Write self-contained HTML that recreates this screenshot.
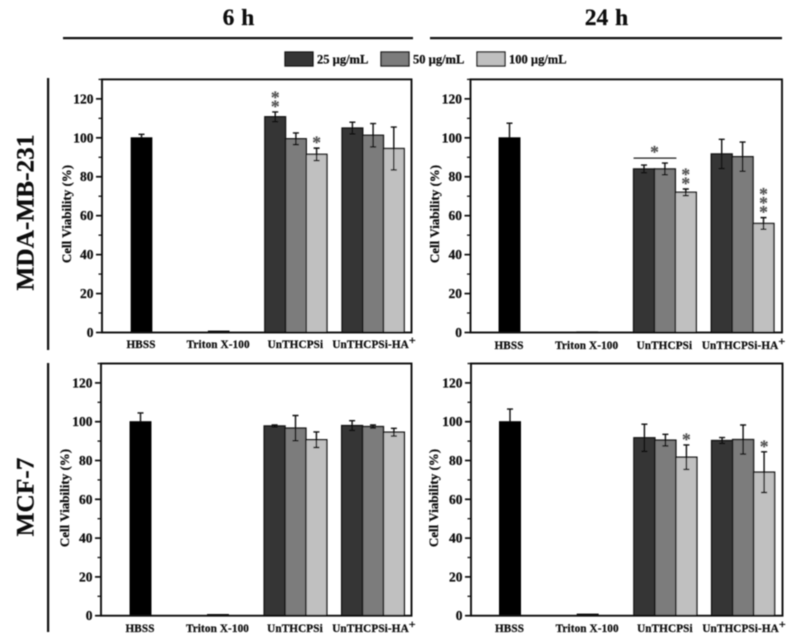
<!DOCTYPE html>
<html lang="en">
<head>
<meta charset="utf-8">
<title>Cell viability chart</title>
<style>
html,body{margin:0;padding:0;background:#fff;width:800px;height:642px;overflow:hidden}
svg{display:block;font-family:"Liberation Serif",serif;font-weight:bold}
text{stroke:#111;stroke-width:0.25px}
</style>
</head>
<body>
<svg id="chart" xmlns="http://www.w3.org/2000/svg" width="800" height="642" viewBox="0 0 800 642">
<defs><filter id="soft" x="-2%" y="-2%" width="104%" height="104%"><feGaussianBlur stdDeviation="0.5"/></filter></defs>
<g id="root" filter="url(#soft)">
<text x="238.5" y="25" font-size="23.5" text-anchor="middle" fill="#111" style="word-spacing:1px">6 h</text>
<text x="606.5" y="25" font-size="23.5" text-anchor="middle" fill="#111" style="word-spacing:1px">24 h</text>
<rect x="63" y="37" width="350" height="2.2" fill="#111"/>
<rect x="430" y="37" width="352" height="2.2" fill="#111"/>
<rect x="47" y="78" width="2.2" height="272" fill="#111"/>
<rect x="47" y="363" width="2.2" height="269" fill="#111"/>
<text transform="translate(33.5,212.5) rotate(-90)" font-size="25.3" text-anchor="middle" fill="#111">MDA-MB-231</text>
<text transform="translate(33.5,497) rotate(-90)" font-size="25.3" text-anchor="middle" fill="#111">MCF-7</text>
<g id="legend"></g>
<g id="panels"></g>
</g>
</svg>
<script>
const categories = ['HBSS', 'Triton X-100', 'UnTHCPSi', 'UnTHCPSi-HA'];
const doseLabels = ['25 µg/mL', '50 µg/mL', '100 µg/mL'];
const yTicks = [0, 20, 40, 60, 80, 100, 120];
const yMinorTicks = [10, 30, 50, 70, 90, 110, 130];

const mda6hControls = [100, 0.7];
const mda6hControlErrors = [1.8, 0];
const mda6hMeans = [[110.8, 99.5, 91.5], [105, 101.3, 94.5]];
const mda6hErrors = [[2.5, 3, 3.2], [3, 6, 11]];
const mda6hStars = [[2, 0, 1], [0, 0, 0]];

const mda24hControls = [100, 0.3];
const mda24hControlErrors = [7.5, 0];
const mda24hMeans = [[84, 84, 72], [91.7, 90.3, 56]];
const mda24hErrors = [[2, 3, 1.7], [7.5, 7.5, 3]];
const mda24hStars = [[0, 0, 2], [0, 0, 3]];

const mcf6hControls = [100, 0.6];
const mcf6hControlErrors = [4.5, 0];
const mcf6hMeans = [[97.8, 96.7, 90.7], [98, 97.5, 94.6]];
const mcf6hErrors = [[0.5, 6.5, 4], [2.5, 0.8, 2]];
const mcf6hStars = [[0, 0, 0], [0, 0, 0]];

const mcf24hControls = [100, 0.8];
const mcf24hControlErrors = [6.5, 0];
const mcf24hMeans = [[91.7, 90.5, 81.7], [90.3, 90.8, 74]];
const mcf24hErrors = [[7, 3, 6.3], [1.5, 7.5, 10.5]];
const mcf24hStars = [[0, 0, 1], [0, 0, 1]];

const doseColors = ['#363636', '#7b7b7b', '#c0c0c0'];
const NS = 'http://www.w3.org/2000/svg';

function make(parent, tag, attrs) {
  const el = document.createElementNS(NS, tag);
  for (const k in attrs) el.setAttribute(k, attrs[k]);
  parent.appendChild(el);
  return el;
}

function drawPanel(parent, name, box, data) {
  const g = make(parent, 'g', {});
  
  

  const yScale = v => box.bottom - v * box.unit;
  const xCenter = i => box.first + box.step * i;
  const barW = box.barW;

  function errorBar(cx, val, err, both, label) {
    if (err <= 0) return;
    const e = make(g, 'path', {
      d: 'M' + (cx - 3) + ' ' + yScale(val + err) + 'H' + (cx + 3) +
         'M' + cx + ' ' + yScale(val + err) + 'V' + yScale(both ? val - err : val) +
         (both ? 'M' + (cx - 3) + ' ' + yScale(val - err) + 'H' + (cx + 3) : ''),
      stroke: '#111', 'stroke-width': 1.4, fill: 'none'
    });
    
    
  }

  function starMark(cx, y, label) {
    const s = make(g, 'text', { x: cx, y: y + 8, 'font-size': 17.5, 'text-anchor': 'middle', fill: '#555', style: 'stroke:#555;stroke-width:0.2px' });
    s.textContent = '*';
    
    
  }

  // control bars
  data.controls.forEach((v, i) => {
    const cx = xCenter(i);
    const r = make(g, 'rect', { x: cx - barW / 2, y: yScale(v), width: barW, height: yScale(0) - yScale(v), fill: '#000', stroke: '#000', 'stroke-width': 1 });
    
    
    errorBar(cx, v, data.controlErrors[i], false, 'error-bar-control');
  });

  // treatment bars
  data.means.forEach((row, gi) => {
    const center = xCenter(gi + 2);
    row.forEach((v, di) => {
      const cx = center + (di - 1) * barW;
      const r = make(g, 'rect', { x: cx - barW / 2, y: yScale(v), width: barW, height: yScale(0) - yScale(v), fill: doseColors[di], stroke: '#151515', 'stroke-width': 1.4 });
      
      
    });
    row.forEach((v, di) => {
      const cx = center + (di - 1) * barW;
      const err = data.errors[gi][di];
      errorBar(cx, v, err, true, 'error-bar');
      for (let n = 0; n < data.stars[gi][di]; n++) {
        starMark(cx, yScale(v + err) - 7.5 - n * 9, 'significance-star');
      }
    });
  });

  // optional bracket over the first two doses of the first treatment group
  if (data.bracket) {
    const center = xCenter(2);
    const row = data.means[0];
    const errs = data.errors[0];
    const top = Math.max(row[0] + errs[0], row[1] + errs[1]);
    const yb = yScale(top) - 5;
    const b = make(g, 'line', { x1: center - 1.5 * barW, x2: center + 0.55 * barW, y1: yb, y2: yb, stroke: '#222', 'stroke-width': 1.3 });
    
    
    starMark(center - 0.5 * barW, yb - 8, 'significance-star');
  }

  // frame
  const frame = make(g, 'rect', { x: box.left, y: yScale(130), width: box.right - box.left, height: yScale(0) - yScale(130), fill: 'none', stroke: '#111', 'stroke-width': 1.9 });
  
  

  // y ticks
  yTicks.forEach(t => {
    const l = make(g, 'line', { x1: box.left - 6, x2: box.left, y1: yScale(t), y2: yScale(t), stroke: '#111', 'stroke-width': 1.7 });
    
    
    const tx = make(g, 'text', { x: box.left - 8.5, y: yScale(t) + 4.5, 'font-size': 13.5, 'text-anchor': 'end', fill: '#111' });
    tx.textContent = t;
    
    
  });
  yMinorTicks.forEach(t => {
    const l = make(g, 'line', { x1: box.left - 3.5, x2: box.left, y1: yScale(t), y2: yScale(t), stroke: '#111', 'stroke-width': 1.3 });
    
    
  });

  // y axis title
  const title = make(g, 'text', { transform: 'translate(' + box.titleX + ',' + box.titleY + ') rotate(-90)', 'font-size': 13, 'text-anchor': 'middle', fill: '#111' });
  title.textContent = 'Cell Viability (%)';
  
  

  // x labels
  categories.forEach((c, i) => {
    const tx = make(g, 'text', { x: xCenter(i) + (i === 3 ? 1.5 : 0) - 0.5, y: box.labelY, 'font-size': 11.2, 'text-anchor': 'middle', fill: '#111', 'letter-spacing': 0.12 });
    tx.textContent = c;
    
    
    if (i === 3) {
      const sup = make(tx, 'tspan', { dy: -4, 'font-size': 12 });
      sup.textContent = '+';
    }
  });
}

const legendRoot = document.getElementById('legend');
const legendX = [285, 381, 477];
doseLabels.forEach((d, i) => {
  const sw = make(legendRoot, 'rect', { x: legendX[i], y: 52, width: 28, height: 14, fill: doseColors[i], stroke: '#151515', 'stroke-width': 1.3 });
  
  
  const tx = make(legendRoot, 'text', { x: legendX[i] + 32, y: 63.5, 'font-size': 12.5, fill: '#111' });
  tx.textContent = d;
  
  
});

const panelsRoot = document.getElementById('panels');
drawPanel(panelsRoot, 'panel-mda-6h',
  { left: 102, right: 411.5, bottom: 332.5, unit: 1.947, first: 141.5, step: 77.2, barW: 20.7, titleX: 71, titleY: 214, labelY: 348 },
  { controls: mda6hControls, controlErrors: mda6hControlErrors, means: mda6hMeans, errors: mda6hErrors, stars: mda6hStars });
drawPanel(panelsRoot, 'panel-mda-24h',
  { left: 470.5, right: 782, bottom: 332.5, unit: 1.947, first: 509.5, step: 77.7, barW: 20.9, titleX: 439, titleY: 214, labelY: 349 },
  { controls: mda24hControls, controlErrors: mda24hControlErrors, means: mda24hMeans, errors: mda24hErrors, stars: mda24hStars, bracket: true });
drawPanel(panelsRoot, 'panel-mcf-6h',
  { left: 101, right: 411.5, bottom: 615.7, unit: 1.94, first: 140.5, step: 77.5, barW: 20.9, titleX: 69, titleY: 498, labelY: 632 },
  { controls: mcf6hControls, controlErrors: mcf6hControlErrors, means: mcf6hMeans, errors: mcf6hErrors, stars: mcf6hStars });
drawPanel(panelsRoot, 'panel-mcf-24h',
  { left: 471, right: 782.5, bottom: 615.7, unit: 1.94, first: 510, step: 77.7, barW: 21, titleX: 438, titleY: 498, labelY: 632 },
  { controls: mcf24hControls, controlErrors: mcf24hControlErrors, means: mcf24hMeans, errors: mcf24hErrors, stars: mcf24hStars });
</script>
</body>
</html>
